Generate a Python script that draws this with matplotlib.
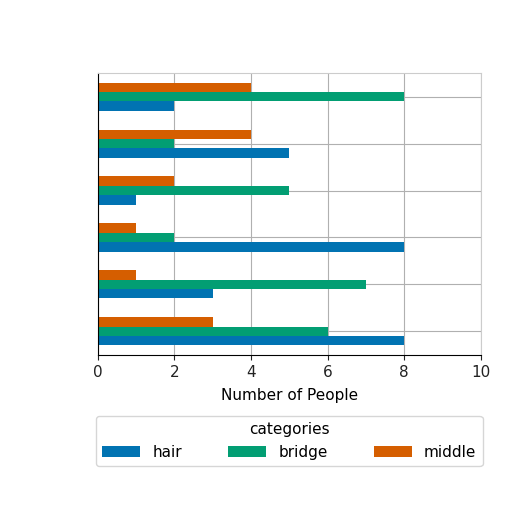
import matplotlib
matplotlib.use("Agg")
import matplotlib.pyplot as plt
import numpy as np

groups = ["g1", "g2", "g3", "g4", "g5", "g6"]
hair = [2, 5, 1, 8, 3, 8]
bridge = [8, 2, 5, 2, 7, 6]
middle = [4, 4, 2, 1, 1, 3]
series = [("hair", hair, "#0173b2"), ("bridge", bridge, "#029e73"), ("middle", middle, "#d55e00")]

fig = plt.figure(figsize=(5.12, 5.12), dpi=100)
ax = fig.add_axes([0.191, 0.307, 0.748, 0.55])
y = np.arange(len(groups))
h = 0.2
for i, (name, vals, c) in enumerate(series):
    ax.barh(y + (1 - i) * h, vals, height=h, color=c, label=name, zorder=2)
ax.set_ylim(len(groups) - 0.5, -0.5)
ax.set_yticks(y)
ax.set_yticklabels([])
ax.tick_params(axis="y", length=0)
ax.set_xlim(0, 10)
ax.set_xticks([0, 2, 4, 6, 8, 10])
ax.tick_params(axis="x", labelsize=11, colors="#222222")
ax.grid(True, color="#b0b0b0", zorder=0)
ax.set_axisbelow(True)
for s in ["top", "right"]:
    ax.spines[s].set_color("#cccccc")
ax.set_xlabel("Number of People", fontsize=11, labelpad=6)
ax.legend(title="categories", ncol=3, loc="upper center", bbox_to_anchor=(0.5, -0.19),
          fontsize=11, title_fontsize=11, handlelength=2.5, columnspacing=3, frameon=True)
fig.savefig("out.png", dpi=100)
